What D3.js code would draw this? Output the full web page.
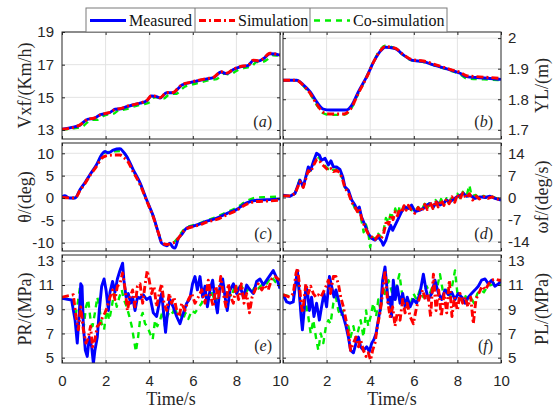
<!DOCTYPE html>
<html><head><meta charset="utf-8">
<script src="https://cdn.jsdelivr.net/npm/d3@7"></script>
<style>body{margin:0;background:#fff}svg{display:block}</style>
</head><body>
<svg id="chart" width="556" height="413"></svg>
<script>
// ---------- DATA ----------
const seriesNames = ["Measured", "Simulation", "Co-simulation"];
const timeTicks = [0, 2, 4, 6, 8, 10];
const vxfTicks = [13, 15, 17, 19];
const ylTicks = [1.7, 1.8, 1.9, 2];
const thetaTicks = [-10, -5, 0, 5, 10];
const omegaTicks = [-14, -7, 0, 7, 14];
const prTicks = [5, 7, 9, 11, 13];
const plTicks = [5, 7, 9, 11, 13];

const vxfMeasured = [[0,13.05],[0.4,13.15],[0.83,13.3],[1.0,13.5],[1.2,13.67],[1.45,13.7],[1.74,13.93],[2.0,14.0],[2.2,14.07],[2.43,14.27],[2.7,14.3],[2.97,14.43],[3.3,14.55],[3.58,14.64],[3.9,14.8],[4.1,15.08],[4.34,15.04],[4.5,14.96],[4.8,15.28],[5.1,15.28],[5.3,15.5],[5.5,15.75],[5.87,15.9],[6.18,16.0],[6.64,16.13],[6.94,16.2],[7.3,16.55],[7.55,16.45],[7.86,16.7],[8.17,16.86],[8.55,16.96],[8.78,17.26],[9.0,17.22],[9.24,17.36],[9.54,17.67],[9.77,17.65],[10,17.58]];
const vxfSimulation = [[0,13.05],[0.4,13.12],[0.83,13.32],[1.0,13.48],[1.2,13.68],[1.45,13.72],[1.74,13.92],[2.0,14.02],[2.2,14.08],[2.43,14.25],[2.7,14.32],[2.97,14.45],[3.3,14.56],[3.58,14.66],[3.9,14.82],[4.1,15.1],[4.34,15.06],[4.5,14.98],[4.8,15.3],[5.1,15.3],[5.3,15.52],[5.5,15.78],[5.87,15.92],[6.18,16.02],[6.64,16.15],[6.94,16.22],[7.3,16.57],[7.55,16.48],[7.86,16.72],[8.17,16.88],[8.55,16.98],[8.78,17.28],[9.0,17.24],[9.24,17.38],[9.54,17.7],[9.77,17.66],[10,17.6]];
const vxfCosim = [[0,13.02],[0.5,13.1],[0.95,13.22],[1.15,13.45],[1.35,13.62],[1.6,13.62],[1.9,13.86],[2.15,13.97],[2.4,14.02],[2.6,14.22],[2.9,14.26],[3.15,14.38],[3.45,14.5],[3.75,14.58],[4.05,14.72],[4.25,15.0],[4.5,14.98],[4.65,14.92],[4.95,15.2],[5.25,15.22],[5.45,15.45],[5.65,15.66],[6.0,15.8],[6.35,15.92],[6.8,16.06],[7.1,16.12],[7.45,16.45],[7.7,16.4],[8.0,16.62],[8.3,16.78],[8.7,16.9],[8.92,17.16],[9.15,17.15],[9.4,17.3],[9.68,17.58],[9.85,17.55],[10,17.5]];

const ylMeasured = [[0,1.862],[0.63,1.862],[0.93,1.847],[1.24,1.825],[1.54,1.792],[1.85,1.768],[2.16,1.765],[2.92,1.765],[3.15,1.78],[3.46,1.825],[3.84,1.874],[4.2,1.928],[4.5,1.96],[4.68,1.97],[5.14,1.966],[5.52,1.945],[5.9,1.928],[6.44,1.923],[7.05,1.909],[7.66,1.896],[8.12,1.885],[8.42,1.874],[8.88,1.871],[9.5,1.868],[10,1.865]];
const ylSimulation = [[0,1.862],[0.63,1.862],[0.93,1.845],[1.24,1.82],[1.54,1.785],[1.85,1.757],[2.1,1.752],[2.8,1.752],[3.1,1.768],[3.46,1.82],[3.84,1.872],[4.2,1.928],[4.5,1.962],[4.68,1.972],[5.14,1.967],[5.52,1.946],[5.9,1.93],[6.44,1.925],[7.05,1.912],[7.66,1.898],[8.12,1.888],[8.42,1.877],[8.88,1.874],[9.5,1.871],[10,1.868]];
const ylCosim = [[0,1.862],[0.63,1.862],[0.93,1.844],[1.24,1.818],[1.54,1.782],[1.85,1.754],[2.1,1.749],[2.8,1.749],[3.1,1.766],[3.46,1.82],[3.84,1.874],[4.2,1.93],[4.5,1.966],[4.68,1.975],[5.14,1.966],[5.52,1.944],[5.9,1.927],[6.44,1.922],[7.05,1.908],[7.66,1.894],[8.12,1.882],[8.42,1.868],[8.88,1.866],[9.5,1.864],[10,1.862]];

const thetaMeasured = [[0,0.2],[0.12,0.5],[0.35,0],[0.6,0],[0.83,1.9],[1.05,3.4],[1.28,5.2],[1.59,7.5],[1.82,9.7],[1.97,10.4],[2.13,10.1],[2.35,10.7],[2.66,11.0],[2.8,10.4],[2.97,9.3],[3.27,6.3],[3.58,3.4],[3.88,-0.4],[4.19,-4.1],[4.42,-7.8],[4.57,-10.1],[4.8,-10.7],[4.95,-10.1],[5.08,-11.0],[5.18,-11.2],[5.34,-9.0],[5.49,-8.2],[5.72,-6.7],[6.02,-6.3],[6.33,-5.8],[6.64,-5.2],[7.1,-4.5],[7.55,-3.5],[8.0,-2.6],[8.47,-1.1],[8.93,-0.5],[9.39,-0.4],[10,-0.2]];
const thetaSimulation = [[0,0.1],[0.6,0],[0.83,1.7],[1.05,3.2],[1.28,5.0],[1.59,7.1],[1.82,8.9],[2.0,9.4],[2.35,9.6],[2.66,9.6],[2.85,9.0],[3.0,8.3],[3.27,5.8],[3.58,3.0],[3.88,-0.6],[4.19,-4.3],[4.42,-7.8],[4.6,-10.0],[4.8,-10.4],[5.0,-10.2],[5.2,-9.8],[5.4,-8.6],[5.6,-7.3],[5.8,-6.7],[6.02,-6.4],[6.33,-6.0],[6.64,-5.4],[7.1,-4.8],[7.55,-3.8],[8.0,-2.8],[8.47,-1.4],[8.93,-0.8],[9.39,-0.7],[10,-0.5]];
const thetaCosim = [[0,0.1],[0.6,0],[0.83,1.8],[1.05,3.3],[1.28,5.1],[1.59,7.4],[1.82,9.6],[2.0,10.2],[2.35,10.4],[2.66,10.5],[2.85,10.0],[3.0,9.0],[3.27,6.0],[3.58,3.2],[3.88,-0.5],[4.19,-4.2],[4.42,-7.8],[4.6,-10.1],[4.8,-10.5],[5.0,-10.3],[5.2,-9.6],[5.4,-8.3],[5.6,-7.0],[5.8,-6.4],[6.02,-6.1],[6.33,-5.6],[6.64,-5.0],[7.1,-4.2],[7.55,-3.2],[8.0,-2.2],[8.47,-0.7],[8.93,0.1],[9.39,0.2],[10,0.3]];

const omegaMeasured = [[0,0.7],[0.32,0.4],[0.55,1.3],[0.66,3.4],[0.78,5.5],[0.86,4.4],[0.93,3.4],[1.05,6.6],[1.16,9.7],[1.27,8.7],[1.39,11.3],[1.54,14.0],[1.67,13.4],[1.77,11.8],[1.93,12.4],[2.08,10.3],[2.2,11.6],[2.31,9.7],[2.46,9.7],[2.61,8.9],[2.74,6.6],[2.84,3.4],[3.0,2.3],[3.15,-0.8],[3.3,-2.4],[3.41,-4.0],[3.5,-3.0],[3.6,-6.1],[3.76,-8.8],[3.91,-11.4],[4.07,-13.0],[4.22,-13.5],[4.37,-12.5],[4.53,-14.0],[4.6,-15.1],[4.72,-13.5],[4.83,-10.9],[4.94,-8.8],[5.03,-10.4],[5.14,-8.8],[5.29,-6.7],[5.44,-4.5],[5.6,-3.0],[5.75,-3.5],[5.9,-2.4],[6.06,-4.5],[6.28,-4.0],[6.44,-3.5],[6.59,-2.4],[6.74,-1.9],[6.9,-3.0],[7.05,-1.4],[7.2,-2.4],[7.35,-1.9],[7.5,-0.8],[7.66,-1.4],[7.81,-0.6],[7.97,0.2],[8.12,0.7],[8.27,1.3],[8.42,0.4],[8.58,0.7],[8.81,-0.3],[9.04,0.2],[9.27,0],[9.5,0.4],[9.72,-0.3],[10,-0.8]];
const omegaSimulation = [[0,0.5],[0.32,0.5],[0.55,1.2],[0.66,3.0],[0.78,5.0],[0.86,4.0],[0.93,3.2],[1.05,6.0],[1.16,8.5],[1.27,8.0],[1.39,10.0],[1.54,12.0],[1.67,11.8],[1.77,10.6],[1.93,9.6],[2.08,8.6],[2.2,9.2],[2.31,8.2],[2.46,8.6],[2.61,7.8],[2.74,5.5],[2.84,3.0],[3.0,1.5],[3.15,-1.5],[3.3,-3.0],[3.41,-4.5],[3.5,-3.5],[3.6,-6.5],[3.76,-9.5],[3.91,-11.5],[4.07,-12.5],[4.22,-13.3],[4.37,-12.0],[4.5,-13.0],[4.6,-12.0],[4.75,-7.2],[4.85,-8.5],[4.95,-5.5],[5.05,-7.0],[5.15,-4.5],[5.25,-5.8],[5.35,-3.5],[5.45,-4.8],[5.55,-2.6],[5.65,-4.0],[5.75,-2.5],[5.9,-4.2],[6.05,-5.0],[6.2,-3.2],[6.35,-4.5],[6.5,-2.2],[6.62,-3.8],[6.75,-1.5],[6.88,-3.5],[7.0,-1.0],[7.12,-3.0],[7.25,-0.8],[7.38,-2.5],[7.5,-0.5],[7.62,-2.0],[7.75,0.2],[7.88,-1.5],[8.0,1.0],[8.12,-0.5],[8.25,1.5],[8.4,-0.2],[8.55,1.2],[8.7,-0.8],[8.85,0.5],[9.0,-0.5],[9.2,0.3],[9.4,-0.3],[9.6,0.2],[9.8,-0.5],[10,-0.5]];
const omegaCosim = [[0,0.5],[0.32,0.5],[0.55,1.3],[0.66,3.5],[0.78,6.0],[0.86,4.5],[0.93,3.5],[1.05,6.5],[1.16,9.5],[1.27,8.5],[1.39,10.8],[1.54,13.0],[1.67,12.5],[1.77,11.0],[1.93,10.0],[2.08,9.0],[2.2,9.6],[2.31,8.6],[2.46,9.0],[2.61,8.0],[2.74,5.8],[2.84,3.2],[3.0,1.8],[3.15,-1.0],[3.3,-3.5],[3.41,-5.0],[3.5,-4.0],[3.62,-8.0],[3.7,-11.0],[3.8,-8.5],[3.91,-11.0],[4.0,-15.8],[4.07,-12.5],[4.22,-13.0],[4.37,-11.5],[4.5,-12.5],[4.6,-11.0],[4.72,-6.5],[4.85,-8.0],[4.95,-4.5],[5.05,-6.5],[5.15,-3.5],[5.25,-5.5],[5.35,-3.0],[5.45,-4.5],[5.55,-2.2],[5.65,-3.8],[5.75,-2.0],[5.9,-4.0],[6.05,-4.5],[6.2,-3.0],[6.35,-4.2],[6.5,-2.0],[6.62,-3.5],[6.75,-1.2],[6.88,-3.2],[7.0,-0.8],[7.12,-2.8],[7.25,-0.5],[7.38,-2.2],[7.5,-0.2],[7.62,-1.8],[7.75,0.5],[7.88,-1.2],[8.0,1.2],[8.12,-0.2],[8.25,1.8],[8.4,0],[8.55,3.9],[8.65,0.5],[8.85,0.8],[9.0,-0.3],[9.2,0.5],[9.4,-0.2],[9.6,0.3],[9.8,-0.3],[10,-0.4]];

const prMeasured = [[0,9.9],[0.44,9.76],[0.6,8.1],[0.7,6.2],[0.8,8.9],[0.86,11.1],[0.92,10.9],[0.98,7.6],[1.07,5.6],[1.16,5.1],[1.25,6.7],[1.36,5.9],[1.44,4.5],[1.51,5.6],[1.62,6.7],[1.71,8.9],[1.82,10.9],[1.93,11.5],[2.02,10.6],[2.13,8.9],[2.2,10.4],[2.32,11.3],[2.43,10.4],[2.54,11.5],[2.66,12.2],[2.78,12.8],[2.84,11.4],[2.94,10.0],[3.04,10.3],[3.15,9.5],[3.24,10.0],[3.35,8.9],[3.46,10.0],[3.58,9.9],[3.73,10.2],[3.88,9.8],[4.04,10.0],[4.19,8.7],[4.34,8.4],[4.46,9.5],[4.57,10.3],[4.68,8.4],[4.75,7.1],[4.85,8.9],[4.95,9.8],[5.1,9.2],[5.26,8.4],[5.41,7.8],[5.57,8.7],[5.72,9.5],[5.87,9.9],[5.99,11.1],[6.1,11.7],[6.21,10.6],[6.33,11.7],[6.45,10.0],[6.56,10.9],[6.67,9.2],[6.79,10.6],[6.91,11.4],[7.02,9.8],[7.13,8.7],[7.25,10.9],[7.37,11.5],[7.48,10.0],[7.58,8.9],[7.71,10.6],[7.86,11.1],[8.01,10.3],[8.17,10.9],[8.32,10.0],[8.47,11.0],[8.62,10.6],[8.78,10.3],[8.93,11.3],[9.08,11.5],[9.24,11.0],[9.39,11.4],[9.54,11.8],[9.69,12.2],[9.82,11.7],[10,10.7]];
const prSimulation = [[0,10.0],[0.52,10.2],[0.64,8.4],[0.75,7.3],[0.86,9.2],[0.98,7.3],[1.1,6.2],[1.2,6.6],[1.31,7.6],[1.4,5.9],[1.51,6.5],[1.62,7.6],[1.74,7.8],[1.87,8.4],[1.97,8.7],[2.08,9.2],[2.2,10.0],[2.32,10.6],[2.43,9.8],[2.54,10.9],[2.66,11.1],[2.78,12.0],[2.9,10.6],[3.0,8.9],[3.12,10.0],[3.24,10.6],[3.35,9.2],[3.46,10.9],[3.58,11.1],[3.7,9.5],[3.81,11.0],[3.91,12.2],[4.0,11.4],[4.11,10.3],[4.22,10.9],[4.34,9.2],[4.46,10.3],[4.57,11.1],[4.68,9.5],[4.8,8.9],[4.92,10.3],[5.03,9.5],[5.14,10.0],[5.26,8.9],[5.38,8.4],[5.49,9.5],[5.64,8.9],[5.8,9.8],[5.95,10.3],[6.1,9.5],[6.25,10.0],[6.41,10.6],[6.56,9.5],[6.71,11.4],[6.83,10.0],[6.94,9.2],[7.06,10.9],[7.17,9.8],[7.28,11.7],[7.4,10.3],[7.52,9.2],[7.63,11.1],[7.74,10.0],[7.86,9.5],[7.98,10.9],[8.1,9.8],[8.23,11.1],[8.35,9.5],[8.47,10.3],[8.6,8.7],[8.72,10.0],[8.86,10.6],[9.0,11.1],[9.16,10.6],[9.31,11.0],[9.46,10.6],[9.62,11.5],[9.77,11.7],[10,11.4]];
const prCosim = [[0,9.9],[0.5,9.8],[0.64,8.7],[0.75,9.8],[0.83,10.9],[0.9,8.9],[1.0,7.6],[1.1,9.2],[1.2,9.8],[1.31,8.1],[1.4,7.6],[1.51,8.7],[1.62,10.0],[1.71,9.2],[1.82,7.8],[1.93,7.3],[2.05,8.9],[2.17,8.1],[2.28,9.2],[2.39,10.3],[2.51,9.2],[2.63,10.0],[2.74,10.6],[2.84,9.8],[2.97,9.2],[3.09,8.4],[3.2,7.6],[3.3,6.5],[3.39,5.5],[3.49,6.7],[3.58,8.1],[3.7,8.7],[3.81,7.8],[3.91,7.6],[4.04,7.0],[4.16,6.5],[4.27,8.1],[4.37,7.6],[4.5,8.1],[4.62,8.9],[4.72,7.6],[4.83,8.4],[4.95,8.9],[5.08,8.7],[5.18,9.2],[5.3,8.4],[5.41,8.7],[5.54,8.1],[5.66,8.7],[5.8,8.2],[5.95,8.9],[6.1,8.7],[6.25,9.1],[6.41,9.5],[6.56,10.3],[6.71,9.8],[6.86,10.6],[7.02,9.5],[7.17,10.3],[7.33,11.1],[7.48,10.0],[7.63,10.6],[7.78,10.0],[7.94,11.1],[8.1,10.4],[8.24,10.9],[8.4,10.3],[8.55,10.7],[8.7,10.4],[8.86,10.9],[9.0,10.7],[9.16,11.0],[9.31,10.9],[9.46,11.3],[9.62,11.7],[9.77,11.3],[10,10.9]];

const plMeasured = [[0,10.2],[0.17,9.6],[0.32,9.5],[0.47,9.6],[0.6,11.4],[0.66,12.2],[0.75,10.3],[0.83,8.4],[0.89,7.3],[0.96,8.7],[1.05,10.9],[1.13,10.3],[1.21,8.9],[1.31,10.0],[1.42,8.4],[1.54,9.5],[1.67,8.1],[1.77,9.2],[1.88,10.3],[2.0,9.2],[2.13,11.7],[2.23,10.9],[2.34,10.0],[2.43,10.6],[2.54,9.8],[2.65,8.9],[2.77,8.4],[2.89,7.6],[3.0,6.7],[3.1,5.6],[3.23,5.4],[3.35,6.2],[3.46,6.7],[3.56,5.9],[3.69,5.6],[3.84,5.9],[3.96,5.5],[4.07,6.2],[4.17,6.5],[4.27,7.0],[4.37,8.1],[4.48,9.2],[4.57,11.4],[4.68,12.5],[4.76,10.9],[4.83,9.5],[4.91,10.0],[4.98,8.4],[5.06,11.4],[5.15,9.8],[5.24,10.9],[5.37,9.5],[5.49,10.3],[5.6,9.2],[5.7,10.0],[5.83,9.2],[5.98,9.8],[6.13,9.5],[6.28,10.3],[6.44,11.9],[6.56,10.6],[6.67,9.8],[6.82,10.3],[6.97,11.4],[7.13,10.3],[7.28,9.8],[7.43,10.6],[7.58,10.2],[7.74,10.4],[7.89,9.8],[8.04,10.3],[8.2,10.0],[8.35,9.5],[8.5,10.0],[8.65,10.3],[8.81,10.6],[8.96,10.9],[9.11,11.4],[9.27,11.5],[9.42,11.1],[9.57,11.4],[9.72,10.9],[9.88,11.1],[10,11.3]];
const plSimulation = [[0,10.2],[0.32,10.0],[0.47,10.3],[0.6,12.0],[0.67,12.4],[0.75,11.1],[0.83,9.5],[0.9,8.7],[0.98,10.0],[1.05,11.1],[1.16,10.3],[1.27,10.9],[1.39,10.3],[1.51,10.0],[1.62,10.2],[1.73,10.0],[1.85,10.4],[1.97,10.9],[2.08,11.4],[2.18,10.3],[2.31,11.7],[2.43,11.7],[2.54,11.1],[2.65,10.0],[2.77,9.2],[2.89,8.1],[3.0,7.0],[3.1,5.6],[3.23,6.2],[3.35,6.7],[3.46,5.9],[3.56,6.5],[3.69,5.6],[3.81,5.1],[3.91,5.4],[4.02,4.8],[4.11,5.6],[4.22,6.2],[4.33,7.6],[4.45,8.7],[4.57,10.3],[4.68,12.2],[4.79,9.8],[4.91,8.4],[5.03,9.2],[5.14,7.6],[5.24,8.7],[5.37,8.1],[5.49,9.8],[5.6,8.7],[5.7,9.5],[5.83,8.4],[5.98,7.8],[6.13,9.2],[6.28,10.0],[6.41,10.6],[6.53,9.8],[6.65,10.3],[6.77,8.4],[6.9,11.9],[7.02,8.9],[7.14,10.6],[7.26,8.4],[7.39,10.3],[7.51,8.7],[7.63,11.4],[7.75,8.4],[7.87,10.0],[8.0,8.9],[8.12,10.3],[8.24,9.5],[8.36,10.0],[8.48,9.2],[8.61,10.0],[8.73,7.8],[8.85,9.8],[8.98,10.3],[9.13,10.9],[9.28,10.6],[9.44,11.1],[9.59,11.4],[9.74,11.5],[9.89,11.4],[10,11.4]];
const plCosim = [[0,10.2],[0.47,10.0],[0.6,10.9],[0.69,11.4],[0.78,9.8],[0.87,8.1],[0.96,8.7],[1.05,9.5],[1.16,8.4],[1.27,7.0],[1.39,8.1],[1.51,6.7],[1.62,5.6],[1.73,7.0],[1.85,6.2],[1.97,7.6],[2.08,8.1],[2.18,7.8],[2.31,9.5],[2.43,10.0],[2.54,8.9],[2.65,8.4],[2.77,8.9],[2.89,7.8],[3.0,7.6],[3.1,6.7],[3.23,7.6],[3.35,6.5],[3.46,7.3],[3.56,8.1],[3.69,6.7],[3.81,8.9],[3.91,7.6],[4.02,8.4],[4.14,9.5],[4.27,8.4],[4.37,9.8],[4.48,8.9],[4.6,10.9],[4.72,10.0],[4.84,11.4],[4.97,10.6],[5.09,9.8],[5.21,10.9],[5.34,11.9],[5.46,10.3],[5.58,9.5],[5.7,10.0],[5.83,9.2],[5.98,10.3],[6.13,9.8],[6.28,10.6],[6.44,10.0],[6.59,10.9],[6.74,10.3],[6.9,11.1],[7.05,10.6],[7.2,11.9],[7.35,10.3],[7.5,10.6],[7.66,10.0],[7.81,11.4],[7.89,12.2],[8.0,10.3],[8.15,9.8],[8.3,10.3],[8.46,9.8],[8.61,10.0],[8.76,9.5],[8.92,10.3],[9.07,10.6],[9.22,10.4],[9.37,10.9],[9.53,11.0],[9.68,11.1],[9.83,11.1],[10,11.0]];

// ---------- LAYOUT / STYLE ----------
const colors = ["#0000ff", "#ff0000", "#00ee00"];
const dashes = [null, "7,3,2,3", "6,5"];
const widths = [2.9, 2.9, 2.4];
const drawOrder = [2, 0, 1];
const cols = [[62, 280], [283, 501]];
const rows = [[32, 139], [143, 251], [255, 363]];

const panels = [
  {tag:"a", col:0, row:0, domain:[12.45, 19.0], ticks:vxfTicks, label:"Vxf/(Km/h)", data:[vxfMeasured, vxfSimulation, vxfCosim], smooth:true},
  {tag:"b", col:1, row:0, domain:[1.67, 2.02], ticks:ylTicks, label:"YL/(m)", data:[ylMeasured, ylSimulation, ylCosim], smooth:true},
  {tag:"c", col:0, row:1, domain:[-11.86, 12.3], ticks:thetaTicks, label:"θ/(deg)", data:[thetaMeasured, thetaSimulation, thetaCosim], smooth:true},
  {tag:"d", col:1, row:1, domain:[-16.95, 17.26], ticks:omegaTicks, label:"ωf/(deg/s)", data:[omegaMeasured, omegaSimulation, omegaCosim], smooth:false},
  {tag:"e", col:0, row:2, domain:[4.56, 13.48], ticks:prTicks, label:"PR/(MPa)", data:[prMeasured, prSimulation, prCosim], smooth:false},
  {tag:"f", col:1, row:2, domain:[4.56, 13.48], ticks:plTicks, label:"PL/(MPa)", data:[plMeasured, plSimulation, plCosim], smooth:false}
];

const svg = d3.select("#chart");
const sans = "'Liberation Sans', Arial, sans-serif";
const serif = "'Liberation Serif', 'Times New Roman', serif";
const fmt = v => String(v);

panels.forEach((p, i) => {
  const [x0, x1] = cols[p.col];
  const [y0, y1] = rows[p.row];
  const x = d3.scaleLinear().domain([0, 10]).range([x0, x1]);
  const y = d3.scaleLinear().domain(p.domain).range([y1, y0]);
  const g = svg.append("g");

  g.append("rect").attr("x", x0).attr("y", y0).attr("width", x1 - x0).attr("height", y1 - y0).attr("fill", "#fff");

  // grid
  g.selectAll(".gx").data(timeTicks.filter(t => t > 0 && t < 10)).join("line")
    .attr("x1", d => x(d)).attr("x2", d => x(d)).attr("y1", y0).attr("y2", y1)
    .attr("stroke", "#e3e3e3").attr("stroke-width", 1);
  g.selectAll(".gy").data(p.ticks).join("line")
    .attr("x1", x0).attr("x2", x1).attr("y1", d => y(d)).attr("y2", d => y(d))
    .attr("stroke", "#e3e3e3").attr("stroke-width", 1);

  // clip
  const cid = "clip" + i;
  svg.append("clipPath").attr("id", cid).append("rect")
    .attr("x", x0).attr("y", y0).attr("width", x1 - x0).attr("height", y1 - y0);

  const line = d3.line().x(d => x(d[0])).y(d => y(d[1]))
    .curve(p.smooth ? d3.curveMonotoneX : d3.curveLinear);
  const lg = g.append("g").attr("clip-path", `url(#${cid})`);
  drawOrder.forEach(k => {
    lg.append("path").datum(p.data[k]).attr("d", line)
      .attr("fill", "none").attr("stroke", colors[k]).attr("stroke-width", widths[k])
      .attr("stroke-dasharray", dashes[k]).attr("stroke-linejoin", "round");
  });

  // axes (inward ticks)
  const styleAxis = sel => {
    sel.select(".domain").remove();
    sel.selectAll(".tick line").attr("stroke", "#262626");
    sel.selectAll("text").attr("font-family", sans).attr("font-size", 15).attr("fill", "#262626");
  };
  const leftAx = d3.axisLeft(y).tickValues(p.ticks).tickSize(-3).tickPadding(8).tickFormat(p.col === 0 ? fmt : () => "");
  const rightAx = d3.axisRight(y).tickValues(p.ticks).tickSize(-3).tickPadding(7).tickFormat(p.col === 1 ? fmt : () => "");
  g.append("g").attr("transform", `translate(${x0},0)`).call(leftAx).call(styleAxis);
  g.append("g").attr("transform", `translate(${x1},0)`).call(rightAx).call(styleAxis);
  // the right panel's "0" coincides with the left panel's "10" label; only one is shown, as in the picture
  const botFmt = p.row === 2 ? (v => (p.col === 1 && v === 0) ? "" : fmt(v)) : () => "";
  const botAx = d3.axisBottom(x).tickValues(timeTicks).tickSize(-3).tickPadding(12).tickFormat(botFmt);
  const topAx = d3.axisTop(x).tickValues(timeTicks).tickSize(-3).tickFormat(() => "");
  g.append("g").attr("transform", `translate(0,${y1})`).call(botAx).call(styleAxis);
  g.append("g").attr("transform", `translate(0,${y0})`).call(topAx).call(styleAxis);

  // box
  g.append("rect").attr("x", x0).attr("y", y0).attr("width", x1 - x0).attr("height", y1 - y0)
    .attr("fill", "none").attr("stroke", "#262626").attr("stroke-width", 1);

  // y label
  const lx = p.col === 0 ? 25 : 542;
  g.append("text").attr("transform", `translate(${lx},${(y0 + y1) / 2}) rotate(-90)`)
    .attr("text-anchor", "middle").attr("dy", "0.35em")
    .attr("font-family", serif).attr("font-size", 18).attr("fill", "#262626").text(p.label);

  // panel tag
  const t = g.append("text").attr("x", x1 - 8).attr("y", y1 - 12).attr("text-anchor", "end")
    .attr("font-family", serif).attr("font-size", 16).attr("fill", "#262626");
  t.append("tspan").text("(");
  t.append("tspan").attr("font-style", "italic").text(p.tag);
  t.append("tspan").text(")");

  // x label
  if (p.row === 2) {
    g.append("text").attr("x", (x0 + x1) / 2).attr("y", 405).attr("text-anchor", "middle")
      .attr("font-family", serif).attr("font-size", 18).attr("fill", "#262626").text("Time/s");
  }
});

// legend
const legend = svg.append("g");
const cells = [[86, 195], [195, 310], [310, 447]];
legend.append("rect").attr("x", 86).attr("y", 8).attr("width", 361).attr("height", 24)
  .attr("fill", "#fff").attr("stroke", "#7a7a7a").attr("stroke-width", 1);
cells.slice(1).forEach(c => legend.append("line").attr("x1", c[0]).attr("x2", c[0]).attr("y1", 8).attr("y2", 32)
  .attr("stroke", "#7a7a7a").attr("stroke-width", 1));
seriesNames.forEach((name, k) => {
  const cx = cells[k][0];
  legend.append("line").attr("x1", cx + 4).attr("x2", cx + 40).attr("y1", 20.5).attr("y2", 20.5)
    .attr("stroke", colors[k]).attr("stroke-width", widths[k]).attr("stroke-dasharray", dashes[k]);
  legend.append("text").attr("x", cx + 43).attr("y", 26).attr("font-family", serif).attr("font-size", 16)
    .attr("fill", "#111").text(name);
});
</script>
</body></html>
